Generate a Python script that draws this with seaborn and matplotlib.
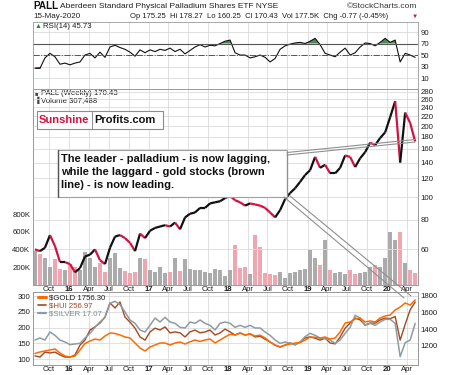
import numpy as np
import pandas as pd
import matplotlib
matplotlib.use("Agg")
import matplotlib.pyplot as plt
import matplotlib.dates as mdates
from matplotlib.lines import Line2D
from matplotlib.patches import Rectangle
import seaborn as sns

# ---------------- data (~23-day steps) ----------------
start_date = "2015-07-28"
step_days = 23

pall_close = [60, 59, 61, 69, 62, 53, 53, 52, 48, 50,
              56, 57, 60, 54, 52, 61, 68, 69, 67, 64,
              59, 70, 67, 72, 74, 75, 76, 75, 78, 73,
              82, 85, 86, 90, 90, 94, 95, 96, 99, 101,
              97, 95, 92, 94, 93, 92, 90, 86, 82, 88,
              98, 104, 109, 116, 124, 130, 148, 133, 137, 126,
              126, 133, 150, 148, 134, 146, 155, 170, 166, 178,
              188, 218, 255, 140, 228, 206, 172]

pall_volume_k = [380, 350, 310, 200, 290, 180, 170, 240, 200, 170,
                 370, 300, 200, 250, 150, 310, 360, 190, 160, 130,
                 150, 300, 290, 170, 150, 200, 135, 150, 300, 160,
                 290, 180, 170, 170, 150, 130, 180, 170, 100, 170,
                 450, 190, 200, 120, 565, 430, 130, 120, 110, 150,
                 80, 130, 150, 170, 180, 395, 305, 230, 510, 170,
                 130, 150, 120, 170, 120, 130, 150, 200, 230, 200,
                 305, 600, 510, 600, 250, 170, 140]

rsi14 = [27, 27, 45, 53, 47, 34, 36, 33, 36, 38,
         50, 53, 45, 55, 46, 64, 67, 63, 60, 55,
         48, 59, 54, 59, 56, 60, 58, 62, 56, 60,
         52, 58, 64, 68, 64, 67, 66, 70, 74, 76,
         54, 50, 50, 45, 47, 50, 46, 38, 44, 60,
         66, 69, 71, 72, 70, 74, 79, 68, 53, 50,
         47, 55, 62, 50, 54, 64, 71, 70, 66, 72,
         79, 72, 76, 38, 53, 50, 46]

gold = [1110, 1128, 1140, 1152, 1164, 1116, 1080, 1068, 1080, 1152,
        1230, 1260, 1284, 1272, 1320, 1356, 1350, 1332, 1308, 1296,
        1236, 1176, 1140, 1188, 1212, 1236, 1236, 1212, 1236, 1248,
        1224, 1250, 1272, 1255, 1272, 1284, 1236, 1272, 1308, 1340,
        1332, 1356, 1332, 1344, 1320, 1330, 1296, 1248, 1212, 1188,
        1212, 1224, 1236, 1240, 1272, 1308, 1305, 1296, 1308, 1284,
        1296, 1368, 1476, 1488, 1524, 1536, 1488, 1500, 1488, 1536,
        1560, 1572, 1632, 1668, 1716, 1692, 1752]

hui = [110, 106, 122, 119, 122, 113, 106, 106, 113, 144,
       160, 192, 202, 214, 233, 278, 262, 281, 233, 217,
       198, 170, 160, 186, 198, 192, 202, 183, 186, 183,
       170, 186, 192, 183, 186, 192, 176, 183, 195, 186,
       176, 183, 176, 180, 170, 172, 163, 154, 144, 138,
       144, 151, 145, 154, 167, 170, 166, 160, 166, 151,
       148, 170, 198, 214, 230, 224, 208, 214, 214, 224,
       230, 228, 235, 160, 210, 256, 281]

silver = [14.5, 14.8, 14.5, 15.7, 15.2, 14.5, 14.2, 13.8, 13.9, 14.0,
          14.8, 15.5, 16.4, 17.2, 17.9, 20.0, 20.3, 19.8, 18.7, 17.5,
          17.0, 16.0, 15.7, 16.7, 17.8, 17.2, 17.9, 17.2, 17.0, 16.4,
          16.3, 17.2, 17.0, 17.5, 17.0, 16.7, 16.0, 17.0, 17.2, 17.0,
          16.4, 16.7, 16.4, 16.7, 16.3, 16.3, 15.7, 15.2, 14.5, 14.0,
          14.2, 14.0, 13.8, 14.2, 15.0, 15.5, 15.2, 14.8, 14.7, 14.5,
          14.0, 14.5, 15.5, 16.4, 18.2, 17.8, 16.7, 17.0, 16.7, 17.2,
          17.6, 17.6, 17.0, 12.0, 14.1, 14.5, 17.0]

price_ticks = [60, 80, 100, 120, 140, 160, 180, 200, 220, 240, 260, 280]
volume_ticks_k = [200, 400, 600, 800]
rsi_ticks = [10, 30, 50, 70, 90]
hui_ticks = [100, 150, 200, 250, 300]
gold_ticks = [1200, 1400, 1600, 1800]
legend_labels = ["$GOLD 1756.30", "$HUI 256.97", "$SILVER 17.07"]
note_lines = ["The leader - palladium - is now lagging,",
              "while the laggard - gold stocks (brown",
              "line) - is now leading."]

# ---------------- style ----------------
sns.set_style("white")
plt.rcParams['font.family'] = ['Liberation Sans', 'DejaVu Sans']
plt.rcParams['axes.linewidth'] = 0.6

dates = pd.date_range(start_date, periods=len(pall_close), freq=f"{step_days}D")
close = np.array(pall_close, float)
up = np.r_[True, close[1:] >= close[:-1]]

W, H = 450, 375
fig = plt.figure(figsize=(W / 100, H / 100), dpi=100)
fig.patch.set_facecolor('white')


def fx(x):
    return x / W


def fy(y):
    return 1 - y / H


L, R = 33, 418


def panel(top, bottom):
    return fig.add_axes([fx(L), fy(bottom), (R - L) / W, (bottom - top) / H])


ax_rsi = panel(22, 89)
ax_vol = panel(89, 285)
ax_bot = panel(292, 365)

xmin = mdates.date2num(pd.Timestamp('2015-07-19'))
xmax = mdates.date2num(pd.Timestamp('2020-05-23'))
qdates = pd.date_range('2015-10-01', '2020-04-01', freq='QS')
qticks = mdates.date2num(qdates)
qlabels = [f"{d.year % 100:02d}" if d.month == 1 else d.strftime('%b') for d in qdates]

GRID = '#dadada'
SPINE = '#9a9a9a'
TXT = '#1e1e1e'
FS = 5.6


def style(ax):
    for s in ax.spines.values():
        s.set_color(SPINE)
        s.set_linewidth(0.6)
    ax.tick_params(length=0, labelsize=FS, colors=TXT, pad=2)
    ax.set_xlabel('')
    ax.set_ylabel('')


def set_xt(ax, show):
    ax.set_xticks(qticks)
    if show:
        ax.set_xticklabels(qlabels)
        for t, lab in zip(ax.get_xticklabels(), qlabels):
            if lab.isdigit():
                t.set_fontweight('bold')
    else:
        ax.set_xticklabels([])
    ax.grid(axis='x', color=GRID, lw=0.6)
    ax.set_xlim(xmin, xmax)


# ---------------- RSI panel ----------------
rsi = np.array(rsi14, float)
sns.lineplot(x=dates, y=rsi, ax=ax_rsi, color='#111111', lw=0.8)
ax_rsi.fill_between(dates, rsi, 70, where=rsi > 70, interpolate=True, color='#4e8a58', lw=0)
ax_rsi.fill_between(dates, rsi, 30, where=rsi < 30, interpolate=True, color='#a84848', lw=0)
ax_rsi.axhline(70, color='#555555', lw=0.8)
ax_rsi.axhline(50, color='#555555', lw=0.7, ls='-.')
ax_rsi.set_ylim(-9, 107.4)
ax_rsi.yaxis.tick_right()
ax_rsi.set_yticks(rsi_ticks)
ax_rsi.grid(axis='y', color=GRID, lw=0.6)
style(ax_rsi)
set_xt(ax_rsi, False)
ax_rsi.text(0.005, 0.93, "\u25b2", color='#3d7a48', fontsize=5, transform=ax_rsi.transAxes, va='center')
ax_rsi.text(0.025, 0.93, "RSI(14) 45.73", color=TXT, fontsize=FS, transform=ax_rsi.transAxes, va='center')

# ---------------- main panel: volume + price ----------------
vol = np.array(pall_volume_k, float)
ax_vol.bar(dates, vol, width=18, color=np.where(up, '#ababab', '#eea6b0'), lw=0)
ax_vol.set_ylim(0, 2215)
ax_vol.set_yticks(volume_ticks_k)
ax_vol.set_yticklabels([f"{v}K" for v in volume_ticks_k])
style(ax_vol)
set_xt(ax_vol, True)
ax_vol.tick_params(axis='x', pad=1)

ax_price = ax_vol.twinx()
for i in range(1, len(close)):
    ax_price.plot(dates[i - 1:i + 1], close[i - 1:i + 1],
                  color='#111111' if up[i] else '#d4113f', lw=1.6, solid_capstyle='butt')
ax_price.set_yscale('log')
ax_price.set_ylim(42.4, 287)
ax_price.set_yticks(price_ticks)
ax_price.set_yticklabels([str(v) for v in price_ticks])
ax_price.minorticks_off()
ax_price.grid(axis='y', color=GRID, lw=0.6)
style(ax_price)
ax_price.set_xlim(xmin, xmax)

ax_vol.text(0.005, 0.975, "\u25a0", color='#444', fontsize=4, transform=ax_vol.transAxes, va='center')
ax_vol.text(0.02, 0.975, "PALL (Weekly) 170.43", color=TXT, fontsize=FS, transform=ax_vol.transAxes, va='center')
ax_vol.text(0.005, 0.94, "\u2590", color='#444', fontsize=4.5, transform=ax_vol.transAxes, va='center')
ax_vol.text(0.02, 0.94, "Volume 307,488", color=TXT, fontsize=FS, transform=ax_vol.transAxes, va='center')

# ---------------- bottom panel: gold / HUI / silver ----------------
sns.lineplot(x=dates, y=np.array(hui, float), ax=ax_bot, color='#a4481f', lw=1.0)
ax_bot.set_ylim(81, 312.7)
ax_bot.set_yticks(hui_ticks)
ax_bot.grid(axis='y', color=GRID, lw=0.6)
style(ax_bot)
set_xt(ax_bot, True)
ax_bot.tick_params(axis='x', pad=1)

ax_sil = ax_bot.twinx()
sns.lineplot(x=dates, y=np.array(silver, float), ax=ax_sil, color='#8d9ca3', lw=1.1)
ax_sil.set_ylim(10.75, 21.7)
ax_sil.set_yticks([])
style(ax_sil)
ax_sil.set_xlim(xmin, xmax)

ax_gold = ax_bot.twinx()
sns.lineplot(x=dates, y=np.array(gold, float), ax=ax_gold, color='#ff6a00', lw=1.1)
ax_gold.set_ylim(972, 1848)
ax_gold.set_yticks(gold_ticks)
style(ax_gold)
ax_gold.set_xlim(xmin, xmax)

handles = [Line2D([], [], color='#ff6a00', lw=2.2),
           Line2D([], [], color='#a4481f', lw=1.2),
           Line2D([], [], color='#8d9ca3', lw=1.6)]
leg = ax_gold.legend(handles, legend_labels, loc='upper left', bbox_to_anchor=(0.0, 1.03),
                     frameon=False, fontsize=FS, handlelength=1.1, handletextpad=0.4,
                     labelspacing=0.05, borderaxespad=0.2)
for t, c in zip(leg.get_texts(), ['#1e1e1e', '#a4481f', '#7f8d94']):
    t.set_color(c)

# ---------------- header texts ----------------
fig.text(fx(33), fy(6), "PALL", fontsize=7.2, fontweight='bold', va='center', color='#111')
fig.text(fx(60), fy(6), "Aberdeen Standard Physical Palladium Shares ETF NYSE", fontsize=6, va='center', color=TXT)
fig.text(fx(417), fy(6), "\u00a9StockCharts.com", fontsize=6, va='center', ha='right', color='#333')
fig.text(fx(33), fy(16), "15-May-2020", fontsize=5.8, va='center', color=TXT)
fig.text(fx(130), fy(16), "Op 175.25  Hi 178.27  Lo 160.25  Cl 170.43  Vol 177.5K  Chg -0.77 (-0.45%)",
         fontsize=5.5, va='center', color=TXT)
fig.text(fx(418), fy(16), "\u25bc", fontsize=4.5, va='center', ha='right', color='#d4113f')

# ---------------- Sunshine Profits logo ----------------
fig.add_artist(Rectangle((fx(37), fy(129)), 126 / W, 18 / H, transform=fig.transFigure,
                         facecolor='white', edgecolor='#8c8c8c', lw=0.8, zorder=10))
fig.add_artist(Line2D([fx(92), fx(92)], [fy(111), fy(129)], transform=fig.transFigure,
                      color='#8c8c8c', lw=0.7, zorder=11))
fig.text(fx(39), fy(120), "Sunshine", fontsize=8, fontweight='bold', color='#d4113f', va='center', zorder=12)
fig.text(fx(94), fy(120), "Profits.com", fontsize=8, fontweight='bold', color='#111', va='center', zorder=12)

# ---------------- note box and callout ----------------
fig.add_artist(Rectangle((fx(58), fy(197)), (287 - 58) / W, (197 - 150) / H, transform=fig.transFigure,
                         facecolor='white', edgecolor='#a0a0a0', lw=0.8, zorder=10))
fig.add_artist(Line2D([fx(58), fx(58)], [fy(150), fy(197)], transform=fig.transFigure,
                      color='#555', lw=1.0, zorder=11))
for k, line in enumerate(note_lines):
    fig.text(fx(61), fy(159 + 13 * k), line, fontsize=8, fontweight='bold', color='#111',
             va='center', zorder=12)

CALL = '#8f8f8f'
for dy in (0, 2.5):
    fig.add_artist(Line2D([fx(287), fx(415)], [fy(155 - dy), fy(142 - dy)], transform=fig.transFigure,
                          color=CALL, lw=0.8, zorder=13))
fig.add_artist(Line2D([fx(287), fx(287)], [fy(152.5), fy(197)], transform=fig.transFigure,
                      color=CALL, lw=0.9, zorder=13))
fig.add_artist(Line2D([fx(284), fx(404)], [fy(197), fy(298)], transform=fig.transFigure,
                      color=CALL, lw=0.8, zorder=13))
fig.add_artist(Line2D([fx(290), fx(411)], [fy(196), fy(296)], transform=fig.transFigure,
                      color=CALL, lw=0.8, zorder=13))

fig.savefig("out.png", dpi=100, facecolor='white')
